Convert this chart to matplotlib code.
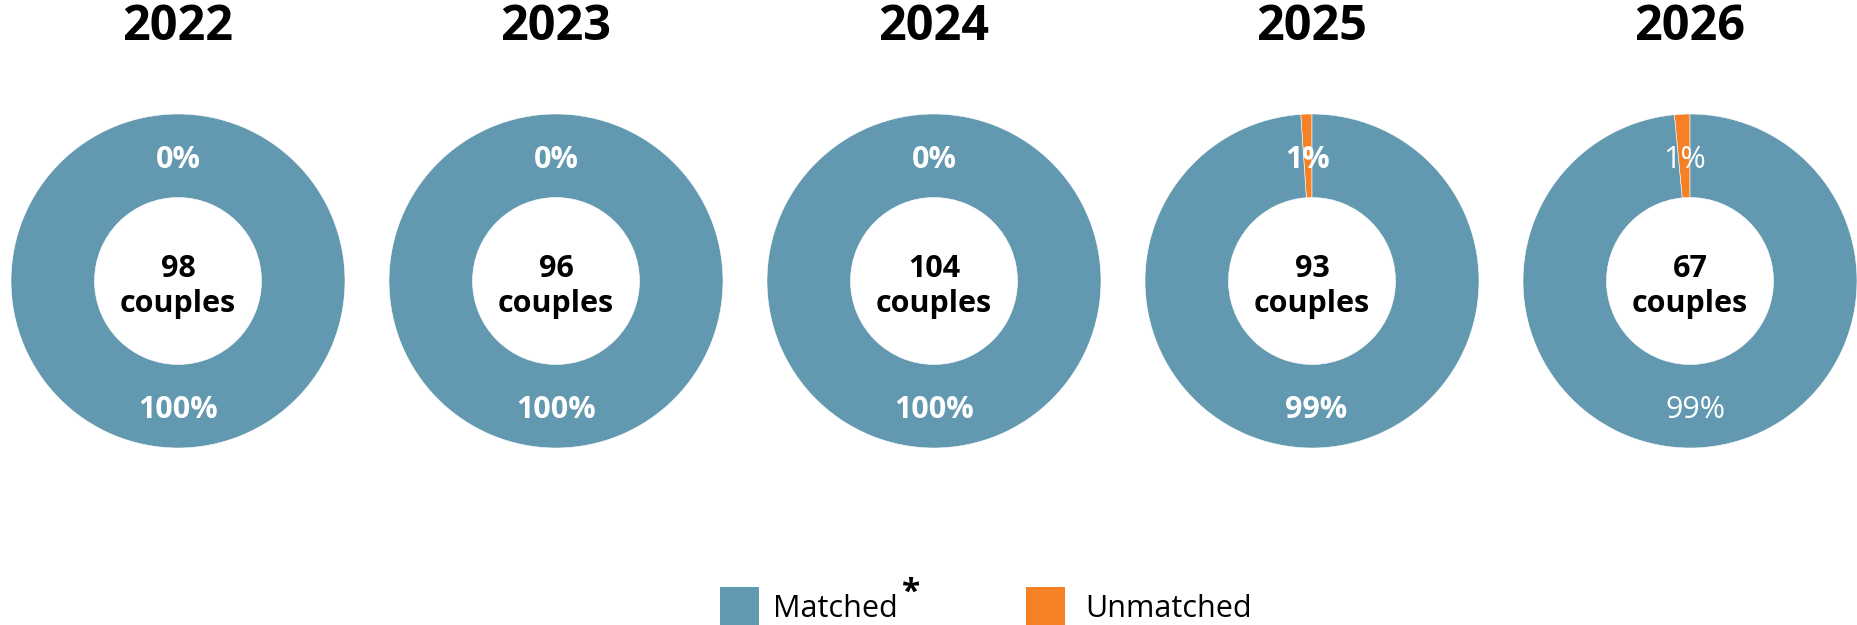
import matplotlib.pyplot as plt
from matplotlib.patches import Rectangle

plt.rcParams['font.family'] = ['Open Sans', 'DejaVu Sans']

years = ['2022', '2023', '2024', '2025', '2026']
matched = [98, 96, 104, 92, 66]
unmatched = [0, 0, 0, 1, 1]
couples = [98, 96, 104, 93, 67]
matched_pct = ['100%', '100%', '100%', '99%', '99%']
unmatched_pct = ['0%', '0%', '0%', '1%', '1%']
bold_labels = [True, True, True, True, False]

blue = '#6399b0'
orange = '#f58025'

W, H = 1858, 625
fig = plt.figure(figsize=(W / 100, H / 100), dpi=100)

r_px = 167
cy = 281
centers = [178, 556, 934, 1312, 1690]

for i, yr in enumerate(years):
    cx = centers[i]
    ax = fig.add_axes([(cx - r_px) / W, (H - cy - r_px) / H, 2 * r_px / W, 2 * r_px / H])
    wedges, texts = ax.pie(
        [unmatched[i], matched[i]],
        colors=[orange, blue],
        startangle=90,
        counterclock=True,
        radius=1,
        labels=[unmatched_pct[i], matched_pct[i]],
        labeldistance=0.75,
        wedgeprops=dict(width=0.5, edgecolor='white', linewidth=0.4),
        textprops=dict(color='white', fontsize=22,
                       fontweight='bold' if bold_labels[i] else 'normal'),
    )
    for t in texts:
        x, y = t.get_position()
        t.set_position((x, y - 4 / r_px))
        t.set_ha('center')
        t.set_va('center')
    ax.set_xlim(-1, 1)
    ax.set_ylim(-1, 1)
    ax.set_aspect('equal')
    ax.axis('off')
    ax.text(0, 4 / r_px, str(couples[i]), ha='center', va='baseline',
            fontsize=22, fontweight='bold', color='black')
    ax.text(0, -31 / r_px, 'couples', ha='center', va='baseline',
            fontsize=22, fontweight='bold', color='black')
    fig.text(cx / W, 1 - 28 / H, yr, ha='center', va='center',
             fontsize=35, fontweight='bold', color='black')

# legend
fig.patches.append(Rectangle((720 / W, 0), 39 / W, 38 / H, transform=fig.transFigure,
                             facecolor=blue, edgecolor='none'))
fig.text(773 / W, 8 / H, 'Matched', ha='left', va='baseline', fontsize=22, color='black')
fig.text(902 / W, 23 / H, '*', ha='left', va='baseline', fontsize=24,
         fontweight='bold', color='black')
fig.patches.append(Rectangle((1026 / W, 0), 39 / W, 38 / H, transform=fig.transFigure,
                             facecolor=orange, edgecolor='none'))
fig.text(1085 / W, 8 / H, 'Unmatched', ha='left', va='baseline', fontsize=22, color='black')

fig.savefig('out.png', dpi=100, facecolor='white')
